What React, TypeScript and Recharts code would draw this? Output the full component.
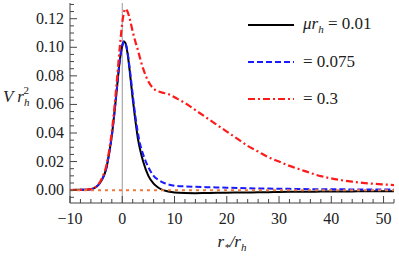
import { LineChart, Line, XAxis, YAxis, ReferenceLine } from 'recharts';

// r*/rh sample points
const xs = [
  -10, -8, -6, -5, -4, -3, -2.5, -2, -1.5, -1, -0.5, 0,
  0.3, 0.6, 1, 1.5, 2, 2.5, 3, 3.5, 4, 5, 6, 7,
  8, 9, 10, 12, 14, 16, 18, 20, 22, 24, 26, 28,
  30, 32, 34, 36, 38, 40, 42, 44, 46, 48, 50, 52,
];
// mu rh = 0.01
const black = [
  0.0001, 0.0002, 0.0007, 0.0022, 0.0065, 0.016, 0.026, 0.038, 0.054, 0.072, 0.09, 0.101,
  0.104, 0.103, 0.096, 0.081, 0.064, 0.049, 0.036, 0.027, 0.02, 0.01, 0.0045, 0.0015,
  -0.0002, -0.0011, -0.0016, -0.002, -0.0021, -0.002, -0.0019, -0.0018, -0.0017, -0.0016, -0.0015, -0.0014,
  -0.0013, -0.0012, -0.0011, -0.0011, -0.001, -0.001, -0.0009, -0.0009, -0.0008, -0.0008, -0.0008, -0.0007,
];
// mu rh = 0.075
const blue = [
  0.0001, 0.0002, 0.0007, 0.0022, 0.0065, 0.016, 0.026, 0.038, 0.054, 0.072, 0.09, 0.101,
  0.104, 0.103, 0.097, 0.083, 0.067, 0.052, 0.04, 0.031, 0.025, 0.016, 0.01, 0.007,
  0.005, 0.0038, 0.0031, 0.0026, 0.0023, 0.0021, 0.0019, 0.0017, 0.0015, 0.0013, 0.0012, 0.0011,
  0.001, 0.0009, 0.0008, 0.0007, 0.0007, 0.0006, 0.0006, 0.0005, 0.0005, 0.0005, 0.0004, 0.0004,
];
// mu rh = 0.3
const red = [
  0.0001, 0.0002, 0.0008, 0.0025, 0.0075, 0.018, 0.028, 0.041, 0.058, 0.078, 0.099, 0.117,
  0.124, 0.127, 0.125, 0.119, 0.111, 0.104, 0.098, 0.091, 0.085, 0.076, 0.071, 0.069,
  0.068, 0.067, 0.065, 0.061, 0.056, 0.051, 0.046, 0.041, 0.036, 0.031, 0.027, 0.023,
  0.02, 0.017, 0.0145, 0.012, 0.0098, 0.0082, 0.0069, 0.0059, 0.0051, 0.0045, 0.004, 0.0035,
];

const xMajor = [-10, 0, 10, 20, 30, 40, 50];
const yMajor = [0, 0.02, 0.04, 0.06, 0.08, 0.1, 0.12];
const legendValues = ['0.01', '0.075', '0.3'];

const data = xs.map((x, i) => ({ x, black: black[i], blue: blue[i], red: red[i] }));

const xTicks: number[] = [];
for (let v = -10; v <= 52; v += 2) xTicks.push(v);
const yTicks: number[] = [];
for (let k = -1; k <= 26; k++) yTicks.push(Math.round(k * 5) / 1000);

const isMajorX = (v: number) => xMajor.includes(v);
const isMajorY = (v: number) => yMajor.some((m) => Math.abs(m - v) < 1e-9);

const FONT = "'Liberation Serif', serif";
const FRAME = '#444';

const BottomTick = (props: any) => {
  const { x, y, payload } = props;
  const major = isMajorX(payload.value);
  return (
    <g>
      <line x1={x} x2={x} y1={y} y2={y - (major ? 7 : 4)} stroke={FRAME} strokeWidth={1} />
      {major && (
        <text x={x} y={y + 21} textAnchor="middle" style={{ fontFamily: FONT }} fontSize={16} fill="#222">
          {payload.value < 0 ? '\u2212' + Math.abs(payload.value) : payload.value}
        </text>
      )}
    </g>
  );
};

const TopTick = (props: any) => {
  const { x, y, payload } = props;
  const major = isMajorX(payload.value);
  return <line x1={x} x2={x} y1={y} y2={y + (major ? 7 : 4)} stroke={FRAME} strokeWidth={1} />;
};

const LeftTick = (props: any) => {
  const { x, y, payload } = props;
  const major = isMajorY(payload.value);
  return (
    <g>
      <line x1={x} x2={x + (major ? 7 : 4)} y1={y} y2={y} stroke={FRAME} strokeWidth={1} />
      {major && (
        <text x={x - 6} y={y + 5} textAnchor="end" style={{ fontFamily: FONT }} fontSize={16} fill="#222">
          {payload.value.toFixed(2)}
        </text>
      )}
    </g>
  );
};

const RightTick = (props: any) => {
  const { x, y, payload } = props;
  const major = isMajorY(payload.value);
  return <line x1={x} x2={x - (major ? 7 : 4)} y1={y} y2={y} stroke={FRAME} strokeWidth={1} />;
};

const legendStyles = [
  { stroke: '#000', dash: undefined },
  { stroke: '#1a1aff', dash: '6 3' },
  { stroke: '#ff1a1a', dash: '7 3 2 3' },
];

export default function App() {
  return (
    <div style={{ position: 'absolute', left: 0, top: 0, width: 399, height: 258, background: '#fff' }}>
      <LineChart width={399} height={258} data={data} margin={{ top: 3, right: 5, left: 0, bottom: 0 }}>
        <XAxis
          dataKey="x"
          type="number"
          domain={[-10, 52]}
          ticks={xTicks}
          interval={0}
          tickSize={0}
          tickMargin={0}
          height={55}
          stroke={FRAME}
          tick={<BottomTick />}
          allowDataOverflow
          label={{
            content: (p: any) => {
              const vb = p.viewBox || { x: 70, width: 324, y: 203 };
              return (
                <text x={vb.x + vb.width / 2} y={247} textAnchor="middle" style={{ fontFamily: FONT }} fontSize={17} fontStyle="italic" fill="#222">
                  r<tspan fontSize={11} dy={4}>*</tspan>
                  <tspan dy={-4}>/r</tspan>
                  <tspan fontSize={11} dy={4}>h</tspan>
                </text>
              );
            },
          }}
        />
        <XAxis
          xAxisId="top"
          dataKey="x"
          type="number"
          orientation="top"
          domain={[-10, 52]}
          ticks={xTicks}
          interval={0}
          tickSize={0}
          tickMargin={0}
          height={0}
          stroke={FRAME}
          tick={<TopTick />}
          allowDataOverflow
        />
        <YAxis
          type="number"
          domain={[-0.009, 0.131]}
          ticks={yTicks}
          interval={0}
          tickSize={0}
          tickMargin={0}
          width={70}
          stroke={FRAME}
          tick={<LeftTick />}
          allowDataOverflow
          label={{
            content: () => (
              <text x={3} y={102} style={{ fontFamily: FONT }} fontSize={17} fontStyle="italic" fill="#222">
                V r<tspan fontSize={11} dy={4}>h</tspan>
                <tspan fontSize={11} fontStyle="normal" dx={-6} dy={-12}>2</tspan>
              </text>
            ),
          }}
        />
        <YAxis
          yAxisId="right"
          orientation="right"
          type="number"
          domain={[-0.009, 0.131]}
          ticks={yTicks}
          interval={0}
          tickSize={0}
          tickMargin={0}
          width={0}
          stroke={FRAME}
          tick={<RightTick />}
          allowDataOverflow
        />
        <ReferenceLine x={0} stroke="#999" strokeWidth={1} />
        <Line dataKey="black" type="monotone" stroke="#000" strokeWidth={2} dot={false} isAnimationActive={false} />
        <Line dataKey="blue" type="monotone" stroke="#1a1aff" strokeWidth={2} strokeDasharray="6 3" dot={false} isAnimationActive={false} />
        <Line dataKey="red" type="monotone" stroke="#ff1a1a" strokeWidth={2.2} strokeDasharray="7 3 2 3" dot={false} isAnimationActive={false} />
        <ReferenceLine y={0} stroke="#f07a3a" strokeWidth={2} strokeDasharray="3 4" />
      </LineChart>
      <div style={{ position: 'absolute', left: 246, top: 6, fontFamily: FONT, fontSize: 17, color: '#222' }}>
        {legendValues.map((v, i) => (
          <div key={v} style={{ display: 'flex', alignItems: 'center', height: 37 }}>
            <svg width={50} height={6} style={{ marginRight: 7 }}>
              <line x1={2} x2={48} y1={3} y2={3} stroke={legendStyles[i].stroke} strokeWidth={2} strokeDasharray={legendStyles[i].dash} />
            </svg>
            <span style={{ whiteSpace: 'nowrap' }}>
              {i === 0 && (
                <i>
                  μr<sub style={{ fontSize: 11 }}>h</sub>
                </i>
              )}
              {i === 0 ? ' = ' : '= '}
              {v}
            </span>
          </div>
        ))}
      </div>
    </div>
  );
}
